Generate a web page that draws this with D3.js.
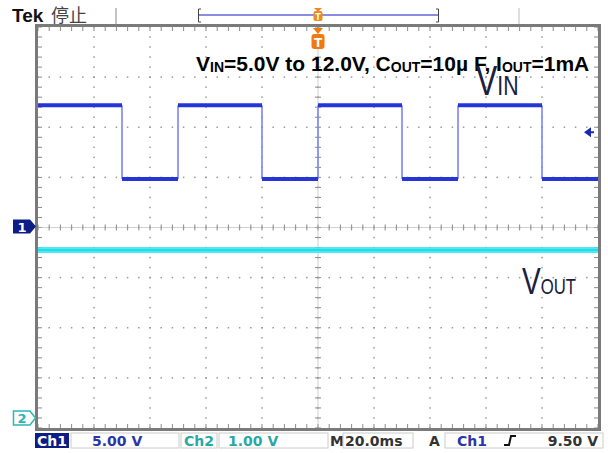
<!DOCTYPE html>
<html><head><meta charset="utf-8">
<script src="https://cdn.jsdelivr.net/npm/d3@7/dist/d3.min.js"></script>
<style>html,body{margin:0;padding:0;background:#fff;}svg{display:block;}</style>
</head><body>
<script>
// ---- data ----
const timeDomain = [-100, 100];          // ms (20.0 ms/div, 10 div)
const ch1Edges  = [-100, -70, -50, -20, 0, 30, 50, 80, 100]; // ms
const ch1Levels = [12.2, 4.85, 12.2, 4.85, 12.2, 4.85, 12.2, 4.85]; // V
const ch2Times  = [-100, 100];
const ch2Values = [3.35, 3.35];          // V
const ch1Domain = [-20, 20];             // 5.00 V/div
const ch2Domain = [-0.2, 7.8];           // 1.00 V/div
const triggerLevel = 9.5;
const statusLabels = {ch1:"Ch1", ch1Scale:"5.00 V", ch2:"Ch2", ch2Scale:"1.00 V", m:"M", time:"20.0ms", a:"A", trig:"9.50 V"};

const W = 608, H = 453;
const L = 38, R = 598, T = 27, B = 428;
const svg = d3.select("body").append("svg").attr("width", W).attr("height", H);

const x = d3.scaleLinear().domain(timeDomain).range([L, R]);
const y1 = d3.scaleLinear().domain(ch1Domain).range([B, T]);
const y2 = d3.scaleLinear().domain(ch2Domain).range([B, T]);

const divX = (R - L) / 10, divY = (B - T) / 8;
const grid = svg.append("g");
const dotC = "#9a9a9a";
for (let i = 1; i < 10; i++) {
  const gx = L + i * divX;
  for (let j = 0; j <= 40; j++) {
    const gy = T + j * divY / 5;
    grid.append("rect").attr("x", gx - 0.75).attr("y", gy - 0.75).attr("width", 1.5).attr("height", 1.5).attr("fill", dotC);
  }
}
for (let j = 1; j < 8; j++) {
  const gy = T + j * divY;
  for (let i = 0; i <= 50; i++) {
    const gx = L + i * divX / 5;
    grid.append("rect").attr("x", gx - 0.75).attr("y", gy - 0.75).attr("width", 1.5).attr("height", 1.5).attr("fill", dotC);
  }
}
const cx = L + 5 * divX, cy = T + 4 * divY;
for (let i = 0; i <= 50; i++) {
  const gx = L + i * divX / 5;
  grid.append("line").attr("x1", gx).attr("x2", gx).attr("y1", cy - 3).attr("y2", cy + 3).attr("stroke", "#8a8a8a").attr("stroke-width", 1);
  grid.append("line").attr("x1", gx).attr("x2", gx).attr("y1", T).attr("y2", T + 4).attr("stroke", "#8a8a8a");
  grid.append("line").attr("x1", gx).attr("x2", gx).attr("y1", B).attr("y2", B - 4).attr("stroke", "#8a8a8a");
}
for (let j = 0; j <= 40; j++) {
  const gy = T + j * divY / 5;
  grid.append("line").attr("x1", cx - 3).attr("x2", cx + 3).attr("y1", gy).attr("y2", gy).attr("stroke", "#8a8a8a");
  grid.append("line").attr("x1", L).attr("x2", L + 4).attr("y1", gy).attr("y2", gy).attr("stroke", "#8a8a8a");
  grid.append("line").attr("x1", R).attr("x2", R - 4).attr("y1", gy).attr("y2", gy).attr("stroke", "#8a8a8a");
}
grid.append("line").attr("x1", L).attr("x2", R).attr("y1", cy).attr("y2", cy).attr("stroke", "#b0b0b0").attr("stroke-width", 0.6);
grid.append("line").attr("x1", cx).attr("x2", cx).attr("y1", T).attr("y2", B).attr("stroke", "#b0b0b0").attr("stroke-width", 0.6);
svg.append("rect").attr("x", L - 1.5).attr("y", T - 1.5).attr("width", R - L + 3).attr("height", B - T + 3)
  .attr("fill", "none").attr("stroke", "#7a7a7a").attr("stroke-width", 3);

// ---- Ch2 trace ----
const line2 = d3.line().x((d, i) => x(ch2Times[i])).y(d => y2(d));
svg.append("path").attr("d", line2(ch2Values)).attr("fill", "none").attr("stroke", "#3ce6f2").attr("stroke-width", 6).attr("opacity", 0.9);
svg.append("path").attr("d", line2(ch2Values)).attr("fill", "none").attr("stroke", "#1fdcec").attr("stroke-width", 2);

// ---- Ch1 trace ----
const g1 = svg.append("g");
for (let k = 1; k < ch1Edges.length - 1; k++) {
  g1.append("line").attr("x1", x(ch1Edges[k])).attr("x2", x(ch1Edges[k]))
    .attr("y1", y1(ch1Levels[k - 1])).attr("y2", y1(ch1Levels[k]))
    .attr("stroke", "#7a86f2").attr("stroke-width", 1.6);
}
ch1Levels.forEach((v, k) => {
  g1.append("line").attr("x1", x(ch1Edges[k])).attr("x2", x(ch1Edges[k + 1]))
    .attr("y1", y1(v)).attr("y2", y1(v))
    .attr("stroke", "#2535d8").attr("stroke-width", 4);
});

// ---- markers ----
const g1y = y1(0) - 1;
svg.append("path").attr("d", `M13,${g1y - 7} L30,${g1y - 7} L36,${g1y} L30,${g1y + 7} L13,${g1y + 7} Z`).attr("fill", "#0c1d86");
svg.append("text").attr("x", 22).attr("y", g1y + 5.5).attr("text-anchor", "middle").attr("fill", "#fff")
  .attr("font-family", "DejaVu Sans").attr("font-weight", "bold").attr("font-size", 13).text("1");
const g2y = y2(0);
svg.append("path").attr("d", `M13.5,${g2y - 7} L30,${g2y - 7} L35.5,${g2y} L30,${g2y + 7} L13.5,${g2y + 7} Z`).attr("fill", "#fff").attr("stroke", "#2ab7b3").attr("stroke-width", 1.5);
svg.append("text").attr("x", 22).attr("y", g2y + 5.5).attr("text-anchor", "middle").attr("fill", "#2ab7b3")
  .attr("font-family", "DejaVu Sans").attr("font-weight", "bold").attr("font-size", 13).text("2");
const ty = y1(triggerLevel);
svg.append("path").attr("d", `M584,${ty} L591,${ty - 5} L591,${ty + 5} Z`).attr("fill", "#1a2ab0");
svg.append("line").attr("x1", 590).attr("x2", 594).attr("y1", ty).attr("y2", ty).attr("stroke", "#1a2ab0").attr("stroke-width", 2);
const tx = x(0);
svg.append("path").attr("d", `M${tx - 5},${T + 1} L${tx + 5},${T + 1} L${tx},${T + 7} Z`).attr("fill", "#f07a10");
svg.append("rect").attr("x", tx - 6.5).attr("y", T + 7).attr("width", 13).attr("height", 15).attr("rx", 3).attr("fill", "#f07a10");
svg.append("text").attr("x", tx).attr("y", T + 19.5).attr("text-anchor", "middle").attr("fill", "#fff")
  .attr("font-family", "DejaVu Sans").attr("font-weight", "bold").attr("font-size", 12).text("T");

// ---- top bar ----
svg.append("text").attr("x", 12).attr("y", 22).attr("font-family", "Liberation Sans").attr("font-weight", "bold")
  .attr("font-size", 19).attr("fill", "#111").text("Tek");
svg.append("text").attr("x", 51).attr("y", 22).attr("font-family", "Noto Sans CJK SC").attr("font-size", 18)
  .attr("fill", "#444").text("停止");
svg.append("line").attr("x1", 116).attr("x2", 116).attr("y1", 8).attr("y2", 24).attr("stroke", "#888").attr("stroke-width", 1);
svg.append("line").attr("x1", 519).attr("x2", 519).attr("y1", 8).attr("y2", 24).attr("stroke", "#bbb").attr("stroke-width", 1);
svg.append("line").attr("x1", 199).attr("x2", 438).attr("y1", 15).attr("y2", 15).attr("stroke", "#8a8ce0").attr("stroke-width", 2);
svg.append("path").attr("d", "M201,9 L198.5,9 L198.5,22 L201,22").attr("fill", "none").attr("stroke", "#444").attr("stroke-width", 1);
svg.append("path").attr("d", "M436,9 L438.5,9 L438.5,22 L436,22").attr("fill", "none").attr("stroke", "#444").attr("stroke-width", 1);
svg.append("path").attr("d", `M${tx - 4},8 L${tx + 4},8 L${tx},12 Z`).attr("fill", "#f08a20");
svg.append("rect").attr("x", tx - 4.5).attr("y", 11).attr("width", 9).attr("height", 10).attr("rx", 2).attr("fill", "#f08a20");
svg.append("text").attr("x", tx).attr("y", 19.5).attr("text-anchor", "middle").attr("fill", "#fff")
  .attr("font-family", "DejaVu Sans").attr("font-weight", "bold").attr("font-size", 8).text("T");

// ---- annotation title ----
const title = svg.append("text").attr("x", 196).attr("y", 71).attr("font-family", "Liberation Sans").attr("font-weight", "bold")
  .attr("font-size", 21).attr("fill", "#000");
const parts = [["V", 0], ["IN", 1], ["=5.0V to 12.0V, C", 0], ["OUT", 1], ["=10µ F, I", 0], ["OUT", 1], ["=1mA", 0]];
parts.forEach(([s, sub], i) => {
  const prevSub = i > 0 ? parts[i - 1][1] : 0;
  const ts = title.append("tspan").text(s);
  if (sub) ts.attr("font-size", 14);
  ts.attr("dy", sub && !prevSub ? 1 : (!sub && prevSub ? -1 : 0));
});

// V_IN label (narrow)
const vin = svg.append("text").attr("transform", "translate(476,95) scale(0.76,1)")
  .attr("font-family", "Liberation Sans").attr("font-size", 42).attr("fill", "#1a2040");
vin.append("tspan").text("V");
vin.append("tspan").attr("font-size", 28).text("IN");
// V_OUT label (narrow)
const vout = svg.append("text").attr("transform", "translate(522,294) scale(0.76,1)")
  .attr("font-family", "Liberation Sans").attr("font-size", 37).attr("fill", "#1a2040");
vout.append("tspan").text("V");
vout.append("tspan").attr("font-size", 22).text("OUT");

// ---- status bar ----
const sb = svg.append("g").attr("font-family", "DejaVu Sans").attr("font-weight", "bold").attr("font-size", 14);
const by = 433, bh = 15, base = 446;
sb.append("rect").attr("x", 35).attr("y", by).attr("width", 34).attr("height", bh).attr("fill", "#0c1d86");
sb.append("text").attr("x", 52).attr("y", base).attr("text-anchor", "middle").attr("fill", "#fff").text(statusLabels.ch1);
sb.append("rect").attr("x", 71).attr("y", by).attr("width", 108).attr("height", bh).attr("fill", "none").attr("stroke", "#ccc");
sb.append("text").attr("x", 92).attr("y", base).attr("fill", "#2a36a8").text(statusLabels.ch1Scale);
sb.append("rect").attr("x", 181).attr("y", by).attr("width", 36).attr("height", bh).attr("fill", "none").attr("stroke", "#ccc");
sb.append("text").attr("x", 199).attr("y", base).attr("text-anchor", "middle").attr("fill", "#2aa8a4").text(statusLabels.ch2);
sb.append("rect").attr("x", 219).attr("y", by).attr("width", 109).attr("height", bh).attr("fill", "none").attr("stroke", "#ccc");
sb.append("text").attr("x", 228).attr("y", base).attr("fill", "#2aa8a4").text(statusLabels.ch2Scale);
sb.append("text").attr("x", 330).attr("y", base).attr("fill", "#333").text(statusLabels.m);
sb.append("rect").attr("x", 343).attr("y", by).attr("width", 70).attr("height", bh).attr("fill", "none").attr("stroke", "#ccc");
sb.append("text").attr("x", 345).attr("y", base).attr("fill", "#333").text(statusLabels.time);
sb.append("text").attr("x", 429).attr("y", base).attr("fill", "#333").text(statusLabels.a);
sb.append("rect").attr("x", 445).attr("y", by).attr("width", 158).attr("height", bh).attr("fill", "none").attr("stroke", "#ccc");
sb.append("text").attr("x", 457).attr("y", base).attr("fill", "#2a36a8").text(statusLabels.ch1);
sb.append("path").attr("d", "M504,445 L509,445 L511,436 L516,436").attr("fill", "none").attr("stroke", "#111").attr("stroke-width", 2);
sb.append("text").attr("x", 598).attr("y", base).attr("text-anchor", "end").attr("fill", "#333").text(statusLabels.trig);
</script>
</body></html>
